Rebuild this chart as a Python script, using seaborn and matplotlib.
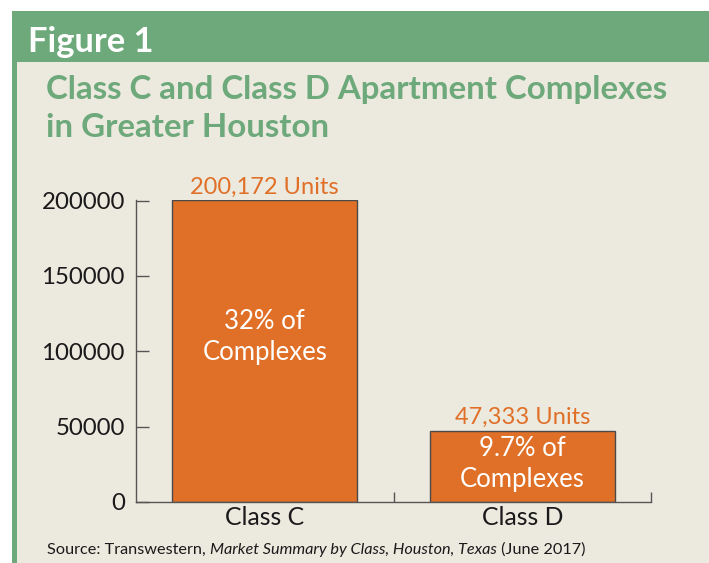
import matplotlib.pyplot as plt
import seaborn as sns
import pandas as pd
from matplotlib.patches import Rectangle

# data
classes = ["Class C", "Class D"]
units = [200172, 47333]
unit_labels = ["200,172 Units", "47,333 Units"]
share_labels = ["32% of\nComplexes", "9.7% of\nComplexes"]
yticks = [0, 50000, 100000, 150000, 200000]

GREEN = "#6DA97A"
BEIGE = "#ECE9DF"
ORANGE = "#E07027"
W, H = 709, 563

sns.set_theme(style="white")
plt.rcParams["font.family"] = ["Lato", "DejaVu Sans"]

df = pd.DataFrame({"Class": classes, "Units": units})

fig = plt.figure(figsize=(W / 100, H / 100), dpi=100)
fig.patch.set_facecolor("white")


def px_rect(x0, y0, x1, y1, color):
    # rectangle in pixel coords (origin top-left), drawn behind the axes
    fig.patches.append(Rectangle((x0 / W, 1 - y1 / H), (x1 - x0) / W, (y1 - y0) / H,
                                 transform=fig.transFigure, facecolor=color,
                                 edgecolor="none", zorder=-5))


px_rect(17, 62, W, H, BEIGE)
px_rect(12, 11, W, 62, GREEN)
px_rect(12, 62, 17, H, GREEN)

fig.text(28 / W, 1 - 52 / H, "Figure 1", color="white", fontsize=24.8,
         fontweight="bold", ha="left", va="baseline")
fig.text(46 / W, 1 - 99 / H, "Class C and Class D Apartment Complexes",
         color=GREEN, fontsize=23.8, fontweight="bold", ha="left", va="baseline")
fig.text(46 / W, 1 - 137 / H, "in Greater Houston",
         color=GREEN, fontsize=23.8, fontweight="bold", ha="left", va="baseline")

ax = fig.add_axes([136 / W, 1 - 502 / H, (651 - 136) / W, (502 - 200) / H])
ax.set_facecolor("none")
sns.barplot(data=df, x="Class", y="Units", color=ORANGE, width=0.72,
            edgecolor="#4a4a4a", linewidth=1, saturation=1, ax=ax)

ax.set_xlim(-0.5, 1.5)
ax.set_ylim(0, 200400)
ax.set_yticks(yticks)
ax.set_yticklabels([str(v) for v in yticks])
ax.set_xlabel("")
ax.set_ylabel("")
for s in ["top", "right"]:
    ax.spines[s].set_visible(False)
for s in ["left", "bottom"]:
    ax.spines[s].set_color("#555555")
    ax.spines[s].set_linewidth(1)
ax.tick_params(axis="y", direction="in", length=9, width=1, color="#555555",
               labelsize=17.3, labelcolor="#1a1a1a", pad=8, left=True)
ax.tick_params(axis="x", which="major", length=0, labelsize=17.8,
               labelcolor="#1a1a1a", pad=3)
ax.set_xticks([0.5, 1.5], minor=True)
ax.tick_params(axis="x", which="minor", direction="in", length=7, width=1,
               color="#555555", bottom=True)

# label centre as a share of bar height
share_pos = [0.547, 0.533]
for i, (v, ul, sl) in enumerate(zip(units, unit_labels, share_labels)):
    ax.annotate(ul, (i, v), xytext=(0, 2), textcoords="offset points",
                ha="center", va="bottom", color=ORANGE, fontsize=17)
    ax.annotate(sl, (i, v * share_pos[i]), ha="center", va="center",
                color="white", fontsize=18.5, linespacing=1.28)

# source line, mixed upright / italic pieces chained one after another
parts = [("Source: Transwestern, ", "normal"),
         ("Market Summary by Class, Houston, Texas", "italic"),
         (" (June 2017)", "normal")]
prev = fig.text(47 / W, 1 - 554 / H, parts[0][0], fontsize=11.7,
                color="#1a1a1a", ha="left", va="baseline")
for txt, style in parts[1:]:
    prev = ax.annotate(txt, xy=(1, 0), xycoords=prev, ha="left", va="bottom",
                       fontsize=11.7, color="#1a1a1a", style=style,
                       annotation_clip=False)

fig.savefig("out.png", dpi=100, facecolor="white")
